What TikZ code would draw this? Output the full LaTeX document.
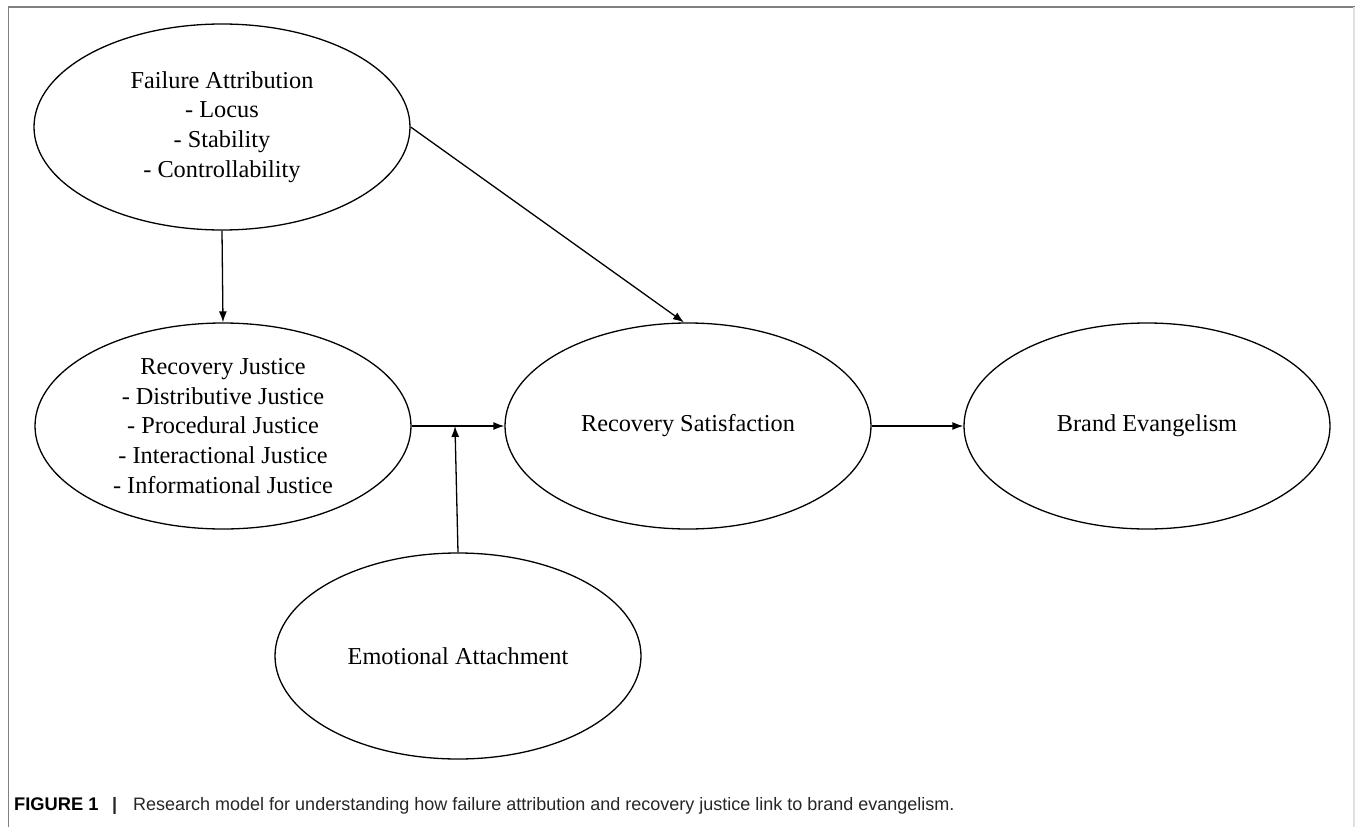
\documentclass[tikz,border=0pt]{standalone}
\usepackage{fontspec}
\setmainfont{Liberation Serif}
\newfontfamily\capfont{Liberation Sans}
\usetikzlibrary{shapes.geometric,arrows.meta,calc}
\begin{document}
\begin{tikzpicture}[x=1pt,y=-1pt,
  oval/.style={draw,ellipse,line width=1.3pt,inner sep=0pt,minimum width=376pt,minimum height=206pt,align=center,font=\fontsize{24.3}{29.7}\selectfont},
  link/.style={line width=1.3pt,-{Latex[length=11pt,width=8pt]}}]
\useasboundingbox (0,0) rectangle (1355,827);
\draw[line width=1.5pt,color=black!50] (8.5,827) -- (8.5,7) -- (1355,7);
\draw[line width=1.5pt,color=black!12] (1354,7) -- (1354,827);
\node[oval] (FA) at (222,127) {Failure Attribution\\- Locus\\- Stability\\- Controllability};
\node[oval] (RJ) at (223,426) {Recovery Justice\\- Distributive Justice\\- Procedural Justice\\- Interactional Justice\\- Informational Justice};
\node[oval,minimum width=366pt] (RS) at (688,426) {Recovery Satisfaction};
\node[oval,minimum width=366pt] (BE) at (1147,426) {Brand Evangelism};
\node[oval,minimum width=366pt] (EA) at (458,656) {Emotional Attachment};
\coordinate (m) at (455,426);
\draw[link] (FA.south) -- (RJ.north);
\draw[link] (FA.east) -- ($(RS.north)+(-4,0)$);
\draw[link] (RJ.east) -- (RS.west);
\draw[link] (EA.north) -- (m);
\draw[link] (RS.east) -- (BE.west);
\node[anchor=base west,inner sep=0pt,text=black!85,font=\capfont\fontsize{18}{22}\selectfont] (cap) at (14,810) {\makebox[98pt][l]{\fontsize{18.3}{22}\selectfont\bfseries\color{black}FIGURE 1}\makebox[21pt][l]{\bfseries |}Research model for understanding how failure attribution and recovery justice link to brand evangelism.};
\end{tikzpicture}
\end{document}
